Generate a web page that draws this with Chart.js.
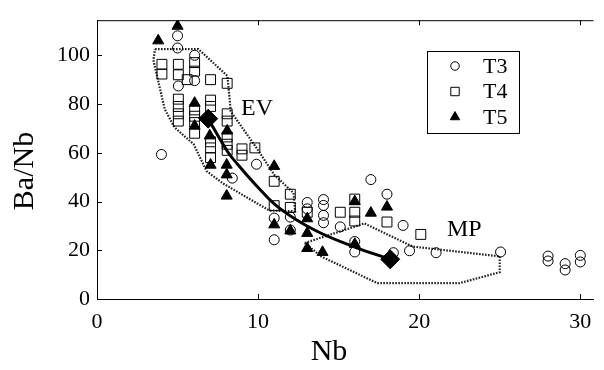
<!DOCTYPE html>
<html>
<head>
<meta charset="utf-8">
<script src="https://cdn.jsdelivr.net/npm/chart.js@4.4.0/dist/chart.umd.min.js"></script>
<style>
  html, body { margin: 0; padding: 0; background: #fff; overflow: hidden; }
  #wrap { width: 604px; height: 370px; }
</style>
</head>
<body>
<div id="wrap"><canvas id="grafico" width="604" height="370"></canvas></div>
<script>
// dados (Nb, Ba/Nb)
const t3 = [
  [5.0, 108], [5.0, 103], [5.05, 87.4], [6.06, 100], [6.06, 89.6], [4.0, 59.3],
  [8.4, 49.6], [9.9, 55.3], [11.0, 33.2], [11.0, 24.3], [12.0, 33.6], [12.0, 28.3],
  [13.05, 39.6], [13.05, 37], [14.06, 40.8], [14.06, 38.4], [14.06, 34.3], [14.06, 31.3],
  [15.1, 29.6], [16.0, 23.6], [16.0, 19.3], [17.0, 49], [18.0, 43], [18.4, 19],
  [19.0, 30.2], [19.4, 19.8], [21.05, 19], [25.05, 19.3], [28.0, 17.6], [28.0, 15.6],
  [29.06, 14.5], [29.06, 11.9], [30.0, 17.9], [30.0, 15.2]
];
const t4 = [
  [4.03, 96.3], [4.03, 92.3],
  [5.05, 96.3], [5.05, 92], [5.05, 82], [5.05, 79], [5.05, 76], [5.05, 73],
  [5.6, 90],
  [6.06, 97], [6.06, 93.5], [6.06, 77.6], [6.06, 75], [6.06, 72.4], [6.06, 68],
  [7.05, 90], [7.05, 81.6], [7.05, 79], [7.05, 64.5], [7.05, 62], [7.05, 58],
  [8.08, 88.5], [8.08, 76], [8.08, 73], [8.08, 66.5], [8.08, 63.5], [8.08, 61],
  [9.0, 61.6], [9.0, 59], [9.8, 62],
  [11.0, 48.3], [11.0, 38.3], [12.0, 43], [12.0, 37.6], [13.05, 35.6],
  [15.1, 35.6], [16.0, 41], [16.0, 35.6], [16.0, 32], [18.0, 31.6], [20.1, 26.5]
];
const t5 = [
  [5.0, 112], [3.8, 106], [6.06, 80.4], [6.06, 71], [7.0, 67], [7.05, 55],
  [8.08, 69], [8.05, 55], [8.05, 51], [8.05, 42.3], [11.0, 54.5], [11.0, 30.5],
  [12.0, 28], [13.05, 33], [13.05, 27], [13.05, 20.8], [14.0, 19.2], [16.0, 40],
  [16.0, 22.5], [17.0, 35.3], [18.0, 37.8]
];
const campoEV = [
  [3.6, 102.5], [6.3, 102.5], [8.1, 91.5], [8.3, 77], [9.9, 62], [11.0, 51],
  [12.2, 43.5], [12.3, 36], [10.7, 36.3], [7.8, 47.5], [6.8, 52.5], [6.0, 63.5],
  [4.8, 70.5], [4.2, 78], [3.5, 98], [3.6, 102.5]
];
const campoMP = [
  [12.9, 23], [16.6, 31], [19.6, 21.5], [25.0, 17.5], [25.0, 11], [22.5, 6.5],
  [17.4, 6.5], [13.9, 17.5], [12.9, 23]
];
const curva = [
  [6.9, 74], [8.1, 60.5], [8.7, 55.5], [9.9, 46.5], [11.3, 37.4], [13.5, 28.3],
  [16.0, 21.3], [18.2, 16.3]
];
const extremos = [[6.9, 74], [18.2, 16.3]];
const xTicks = [0, 10, 20, 30];
const yTicks = [0, 20, 40, 60, 80, 100];
const nomes = ['T3', 'T4', 'T5'];

const pts = a => a.map(p => ({ x: p[0], y: p[1] }));
const fonte = '"Liberation Serif", "Times New Roman", Times, serif';

const estiloPontos = [
  { pointStyle: 'circle', radius: 5, fill: 'rgba(0,0,0,0)' },
  { pointStyle: 'rect', radius: 7, fill: 'rgba(0,0,0,0)' },
  { pointStyle: 'triangle', radius: 6.4, fill: '#000' }
];

// desenha bordas, ticks internos, legenda e textos
const extras = {
  id: 'extras',
  afterDraw(chart) {
    const ctx = chart.ctx;
    const xs = chart.scales.x, ys = chart.scales.y;
    const a = chart.chartArea;
    ctx.save();
    ctx.strokeStyle = '#000';
    ctx.lineWidth = 1;
    ctx.beginPath();
    ctx.moveTo(a.left, a.top + 0.5);
    ctx.lineTo(a.right, a.top + 0.5);
    xTicks.forEach(v => {
      const px = Math.round(xs.getPixelForValue(v)) + 0.5;
      if (v === 0) return;
      ctx.moveTo(px, a.bottom); ctx.lineTo(px, a.bottom - 5);
      ctx.moveTo(px, a.top); ctx.lineTo(px, a.top + 5);
    });
    yTicks.forEach(v => {
      const py = Math.round(ys.getPixelForValue(v)) + 0.5;
      if (v === 0) return;
      ctx.moveTo(a.left, py); ctx.lineTo(a.left + 5, py);
    });
    ctx.stroke();

    // legenda
    ctx.lineWidth = 1;
    ctx.strokeRect(427.5, 51.5, 92, 82);
    ctx.font = '22px ' + fonte;
    ctx.fillStyle = '#000';
    ctx.textBaseline = 'middle';
    nomes.forEach((n, i) => {
      const y = 66 + i * 25.5;
      const e = estiloPontos[i];
      ctx.fillStyle = e.fill;
      ctx.strokeStyle = '#000';
      Chart.helpers.drawPoint(ctx, { pointStyle: e.pointStyle, radius: e.radius * 0.85, borderWidth: 1 }, 455, y);
      ctx.fillStyle = '#000';
      ctx.fillText(n, 483, y + 1);
    });

    // rotulos dos campos
    ctx.font = '24px ' + fonte;
    ctx.textBaseline = 'alphabetic';
    ctx.fillText('EV', 241, 115);
    ctx.fillText('MP', 447, 236);

    // titulos dos eixos
    ctx.font = '30px ' + fonte;
    ctx.textAlign = 'center';
    ctx.textBaseline = 'middle';
    ctx.fillText('Nb', 329, 352);
    ctx.translate(25, 171);
    ctx.rotate(-Math.PI / 2);
    ctx.fillText('Ba/Nb', 0, 0);
    ctx.restore();
  }
};

const linhaCampo = d => ({
  data: pts(d), showLine: true, pointRadius: 0, borderColor: '#222',
  borderWidth: 2.2, borderDash: [1.6, 1.4], fill: false, tension: 0
});

new Chart(document.getElementById('grafico').getContext('2d'), {
  type: 'scatter',
  data: {
    datasets: [
      { label: 'ext', data: pts(extremos), pointStyle: 'rectRot', pointRadius: 9.5,
        backgroundColor: '#000', borderColor: '#000', borderWidth: 1 },
      { label: 'curva', data: pts(curva), showLine: true, pointRadius: 0,
        borderColor: '#000', borderWidth: 3, tension: 0.4, fill: false },
      ...nomes.map((n, i) => ({
        label: n, data: pts([t3, t4, t5][i]), pointStyle: estiloPontos[i].pointStyle,
        pointRadius: estiloPontos[i].radius, backgroundColor: estiloPontos[i].fill,
        borderColor: '#000', borderWidth: 1
      })),
      linhaCampo(campoEV),
      linhaCampo(campoMP)
    ]
  },
  options: {
    responsive: false,
    animation: false,
    events: [],
    layout: { padding: { top: 13, right: 0, left: 0, bottom: 0 } },
    plugins: { legend: { display: false }, tooltip: { enabled: false } },
    scales: {
      x: {
        type: 'linear', min: 0, max: 30.82,
        grid: { display: false, drawTicks: false },
        border: { display: true, color: '#000', width: 1 },
        afterBuildTicks: s => { s.ticks = xTicks.map(v => ({ value: v })); },
        afterFit: s => { s.height = 71; },
        ticks: { padding: 10, color: '#000', font: { family: fonte, size: 22 } }
      },
      y: {
        type: 'linear', min: 0, max: 114.4,
        grid: { display: false, drawTicks: false },
        border: { display: true, color: '#000', width: 1 },
        afterBuildTicks: s => { s.ticks = yTicks.map(v => ({ value: v })); },
        afterFit: s => { s.width = 97; },
        ticks: { padding: 7, color: '#000', font: { family: fonte, size: 22 } }
      }
    }
  },
  plugins: [extras]
});
</script>
</body>
</html>
